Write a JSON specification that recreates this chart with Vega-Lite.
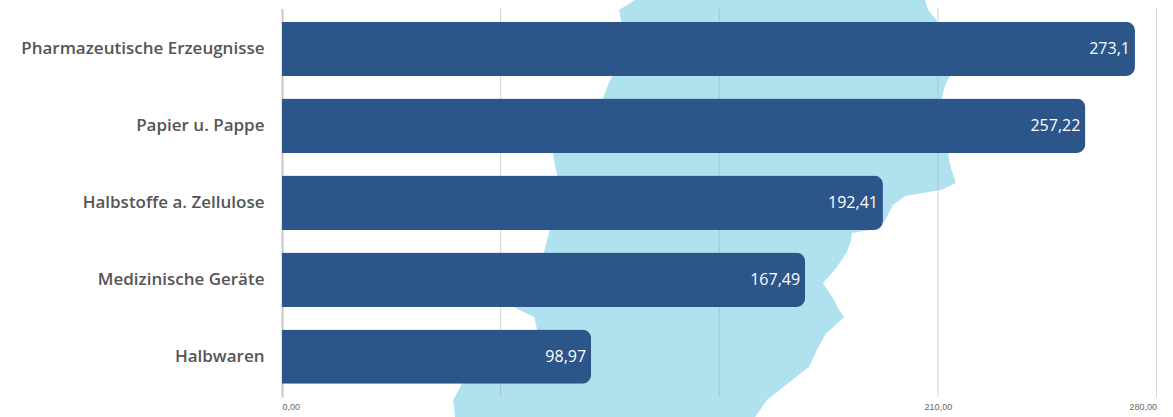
{"$schema":"https://vega.github.io/schema/vega-lite/v6.json","width":874.5,"height":388.5,"autosize":{"type":"none"},"padding":{"left":282,"top":8.5,"right":16.5,"bottom":20},"background":"white","config":{"view":{"stroke":null},"locale":{"number":{"decimal":",","thousands":".","grouping":[3],"currency":["","€"]}}},"resolve":{"scale":{"y":"independent"}},"layer":[{"data":{"values":[{"north":417,"west":113.0,"east":205.9},{"north":407,"west":107.9,"east":206.9},{"north":396,"west":108.6,"east":209.7},{"north":367,"west":107.3,"east":212.3},{"north":341,"west":105.7,"east":213.9},{"north":332,"west":104.4,"east":212.3},{"north":319,"west":102.8,"east":211.3},{"north":264,"west":86.8,"east":213.3},{"north":252,"west":87.4,"east":213.9},{"north":242,"west":88.1,"east":214.9},{"north":234,"west":88.7,"east":215.8},{"north":227,"west":88.4,"east":211},{"north":221,"west":88.1,"east":199.5},{"north":212,"west":87.7,"east":195.6},{"north":195,"west":86.8,"east":192.8},{"north":187,"west":85.8,"east":188.3},{"north":184,"west":85.5,"east":182.5},{"north":177,"west":84.9,"east":182.2},{"north":165,"west":83.9,"east":180.9},{"north":150,"west":81,"east":177.7},{"north":134,"west":77.8,"east":173.2},{"north":117,"west":74.8,"east":176.8},{"north":109,"west":74.8,"east":178},{"north":100,"west":80.7,"east":180},{"north":87,"west":81.7,"east":175.5},{"north":84,"west":80,"east":174.2},{"north":67,"west":69.8,"east":171.3},{"north":50,"west":63.4,"east":168.7},{"north":33,"west":57.6,"east":161.7},{"north":17,"west":54.8,"east":155.3},{"north":0,"west":55.4,"east":151.5}]},"mark":{"type":"area","orient":"horizontal","color":"#b0e1ee","clip":false},"encoding":{"y":{"field":"north","type":"quantitative","scale":{"domain":[20,408.5],"nice":false,"zero":false},"axis":null},"x":{"field":"west","type":"quantitative","scale":{"domain":[0,280],"nice":false},"axis":{"values":[0,70,140,210,280],"format":".2f","title":null,"grid":false,"domain":false,"ticks":false,"labelFont":"Liberation Sans","labelFontSize":9,"labelColor":"#666666","labelPadding":5}},"x2":{"field":"east"}}},{"data":{"values":[{"tick":70},{"tick":140},{"tick":210},{"tick":280}]},"mark":{"type":"rule","color":"#a8a8a8","strokeWidth":1,"strokeDash":[1,1]},"encoding":{"x":{"field":"tick","type":"quantitative"}}},{"data":{"values":[{"category":"Pharmazeutische Erzeugnisse","value":273.1},{"category":"Papier u. Pappe","value":257.22},{"category":"Halbstoffe a. Zellulose","value":192.41},{"category":"Medizinische Geräte","value":167.49},{"category":"Halbwaren","value":98.97}]},"encoding":{"y":{"field":"category","type":"nominal","sort":null,"scale":{"paddingInner":0.292,"paddingOuter":0.171},"axis":{"title":null,"ticks":false,"domainColor":"#c8c8c8","domainWidth":2,"labelFont":"Open Sans","labelFontSize":17,"labelFontWeight":600,"labelColor":"#555555","labelPadding":18,"labelLimit":300}}},"layer":[{"mark":{"type":"bar","color":"#2c5589","cornerRadiusTopRight":9,"cornerRadiusBottomRight":9},"encoding":{"x":{"field":"value","type":"quantitative"}}},{"mark":{"type":"text","align":"right","baseline":"middle","dx":-5,"font":"Open Sans","fontSize":16,"fontWeight":500,"color":"#ffffff"},"encoding":{"x":{"field":"value","type":"quantitative"},"text":{"field":"value","type":"quantitative","format":".2~f"}}}]}]}
